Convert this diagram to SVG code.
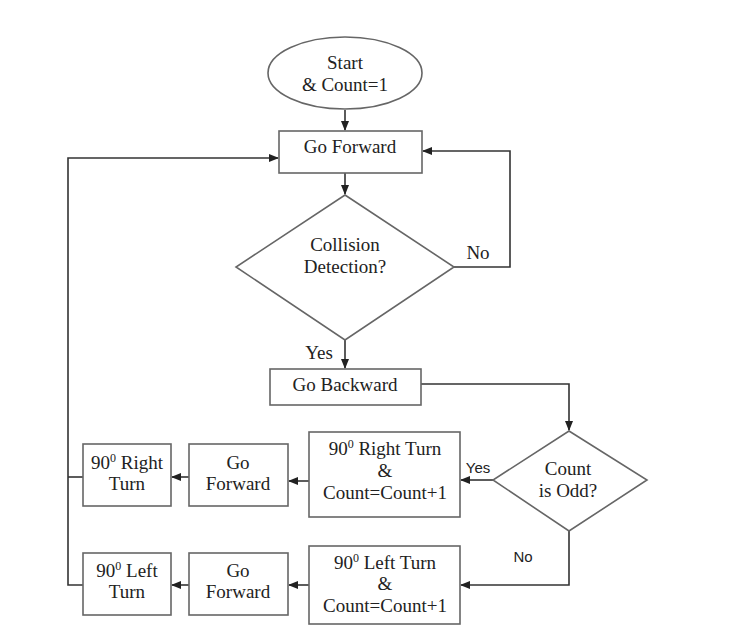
<svg xmlns="http://www.w3.org/2000/svg" width="750" height="638" viewBox="0 0 750 638">
<defs>
<marker id="ah" markerWidth="10" markerHeight="8" refX="9" refY="4" orient="auto" markerUnits="userSpaceOnUse">
<path d="M0,0 L10,4 L0,8 Z" fill="#222"/>
</marker>
<style>
.s{fill:#fff;stroke:#666;stroke-width:1.6}
.c{fill:none;stroke:#333;stroke-width:1.6}
.a{marker-end:url(#ah)}
text{font-family:"Liberation Serif","Times New Roman",serif;font-size:19px;fill:#222;text-anchor:middle}
.l{font-family:"Liberation Sans",Arial,sans-serif;font-size:15px}
.sup{font-size:12px}
</style>
</defs>
<rect width="750" height="638" fill="#fff"/>
<g id="connectors">
<path class="c a" d="M345,110 V130"/>
<path class="c a" d="M345,173 V194"/>
<path class="c a" d="M454,267 H510 V151 H423"/>
<path class="c a" d="M345,340 V368"/>
<path class="c a" d="M421,384 H569 V430"/>
<path class="c a" d="M493,480 H461"/>
<path class="c a" d="M569,531 V585 H461"/>
<path class="c a" d="M309,481 H289"/>
<path class="c a" d="M189,477 H172"/>
<path class="c a" d="M309,585 H289"/>
<path class="c a" d="M189,585 H172"/>
<path class="c" d="M83,477 H68"/>
<path class="c a" d="M83,585 H68 V158 H278"/>
</g>
<g id="start">
<ellipse class="s" cx="345" cy="73" rx="77" ry="36"/>
<text x="345" y="69">Start</text>
<text x="345" y="91">&amp; Count=1</text>
</g>
<g id="goForward">
<rect class="s" x="279" y="131" width="143" height="42"/>
<text x="350" y="153">Go Forward</text>
</g>
<g id="collision">
<polygon class="s" points="345,195 454,267 345,340 236,267"/>
<text x="345" y="251">Collision</text>
<text x="345" y="273">Detection?</text>
</g>
<g id="goBackward">
<rect class="s" x="270" y="369" width="151" height="36"/>
<text x="345" y="391">Go Backward</text>
</g>
<g id="countOdd">
<polygon class="s" points="569,431 647,480 569,531 493,480"/>
<text x="568" y="475">Count</text>
<text x="568" y="497">is Odd?</text>
</g>
<g id="rightTurnCount">
<rect class="s" x="309" y="432" width="151" height="85"/>
<text x="385" y="455">90<tspan class="sup" dy="-7">0</tspan><tspan dy="7"> Right Turn</tspan></text>
<text x="385" y="477">&amp;</text>
<text x="385" y="499">Count=Count+1</text>
</g>
<g id="goForwardR">
<rect class="s" x="189" y="444" width="99" height="62"/>
<text x="238" y="469">Go</text>
<text x="238" y="490">Forward</text>
</g>
<g id="rightTurn">
<rect class="s" x="83" y="444" width="88" height="62"/>
<text x="127" y="469">90<tspan class="sup" dy="-7">0</tspan><tspan dy="7"> Right</tspan></text>
<text x="127" y="490">Turn</text>
</g>
<g id="leftTurnCount">
<rect class="s" x="309" y="546" width="151" height="78"/>
<text x="385" y="569">90<tspan class="sup" dy="-7">0</tspan><tspan dy="7"> Left Turn</tspan></text>
<text x="385" y="590">&amp;</text>
<text x="385" y="612">Count=Count+1</text>
</g>
<g id="goForwardL">
<rect class="s" x="189" y="553" width="99" height="62"/>
<text x="238" y="577">Go</text>
<text x="238" y="598">Forward</text>
</g>
<g id="leftTurn">
<rect class="s" x="83" y="553" width="88" height="62"/>
<text x="127" y="577">90<tspan class="sup" dy="-7">0</tspan><tspan dy="7"> Left</tspan></text>
<text x="127" y="598">Turn</text>
</g>
<g id="labels">
<text x="478" y="259">No</text>
<text x="319" y="359">Yes</text>
<text class="l" x="478" y="473">Yes</text>
<text class="l" x="523" y="562">No</text>
</g>
</svg>
